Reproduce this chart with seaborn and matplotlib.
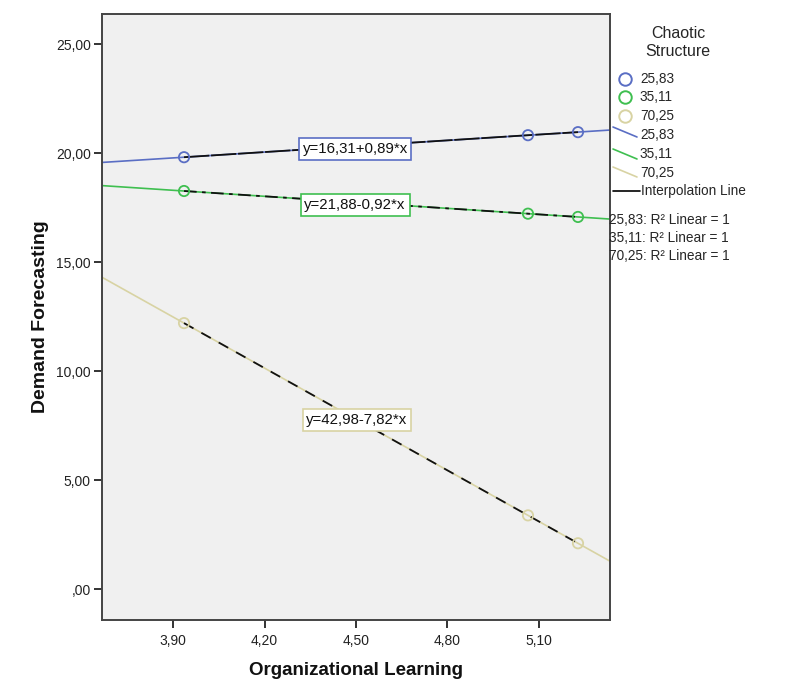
import numpy as np
import pandas as pd
import seaborn as sns
import matplotlib.pyplot as plt
from matplotlib.lines import Line2D

# data
groups = ["25,83", "35,11", "70,25"]
org_learning = [3.936, 5.064, 5.228]
demand_2583 = [19.81, 20.82, 20.96]
demand_3511 = [18.26, 17.22, 17.07]
demand_7025 = [12.20, 3.38, 2.10]
equations = ["y=16,31+0,89*x", "y=21,88-0,92*x", "y=42,98-7,82*x"]
x_ticks = [3.90, 4.20, 4.50, 4.80, 5.10]
y_ticks = [0, 5, 10, 15, 20, 25]

colors = ["#5a6ec4", "#3fbf50", "#d8d3a3"]
interp_styles = [(0, (14, 1)), (0, (7, 3, 2, 3)), (0, (6, 5))]

df = pd.DataFrame({
    "Organizational Learning": org_learning * 3,
    "Demand Forecasting": demand_2583 + demand_3511 + demand_7025,
    "Chaotic Structure": [g for g in groups for _ in org_learning],
})

sns.set_style("white")
plt.rcParams["font.family"] = ["Liberation Sans", "DejaVu Sans"]

fig = plt.figure(figsize=(7.95, 6.96), dpi=100)
ax = fig.add_axes([102 / 795, 1 - 620 / 696, 508 / 795, 606 / 696])
ax.set_facecolor("#f0f0f0")
ax.set_xlim(3.667, 5.333)
ax.set_ylim(-1.42, 26.38)

# fit lines (extend across the whole x range)
for g, c in zip(groups, colors):
    sub = df[df["Chaotic Structure"] == g]
    sns.regplot(data=sub, x="Organizational Learning", y="Demand Forecasting",
                scatter=False, ci=None, truncate=False, color=c,
                line_kws={"lw": 1.2}, ax=ax)

# interpolation lines
for g, ls in zip(groups, interp_styles):
    sub = df[df["Chaotic Structure"] == g]
    sns.lineplot(data=sub, x="Organizational Learning", y="Demand Forecasting",
                 color="#111111", lw=1.3, linestyle=ls, ax=ax)

# hollow points
sns.scatterplot(data=df, x="Organizational Learning", y="Demand Forecasting",
                hue="Chaotic Structure", palette=colors, s=55, linewidth=1.3,
                legend=False, ax=ax, zorder=5)
pts = ax.collections[-1]
pts.set_edgecolors(pts.get_facecolors())
pts.set_facecolor("none")

# equation labels
eq_pos = [(4.497, 20.18), (4.497, 17.61), (4.503, 7.75)]
for (ex, ey), eq, c in zip(eq_pos, equations, colors):
    ax.text(ex, ey, eq, ha="center", va="center", fontsize=10.8, zorder=6,
            color="#111111",
            bbox=dict(boxstyle="square,pad=0.25", fc="white", ec=c, lw=1.2))

ax.set_xticks(x_ticks)
ax.set_xticklabels([f"{v:.2f}".replace(".", ",") for v in x_ticks])
ax.set_yticks(y_ticks)
ax.set_yticklabels([(f"{v:.2f}".replace(".", ",") if v else ",00") for v in y_ticks])
ax.tick_params(axis="both", which="both", direction="out", length=6, width=1.4,
               color="#333333", labelsize=10, labelcolor="#222222", pad=2,
               bottom=True, left=True, top=False, right=False)
ax.tick_params(axis="x", pad=4)
for sp in ax.spines.values():
    sp.set_color("#444444")
    sp.set_linewidth(1.4)
ax.set_xlabel("Organizational Learning", fontsize=13.5, fontweight="bold",
              labelpad=10, color="#111111")
ax.set_ylabel("Demand Forecasting", fontsize=14, fontweight="bold",
              labelpad=5, color="#111111")

# legend drawn outside the axes
def fx(px):
    return px / 795

def fy(py):
    return 1 - py / 696

fig.text(fx(678), fy(33), "Chaotic", ha="center", va="center", fontsize=11.5)
fig.text(fx(678), fy(51), "Structure", ha="center", va="center", fontsize=11.5)
for i, (g, c) in enumerate(zip(groups, colors)):
    yy = [79, 97, 116][i]
    fig.add_artist(Line2D([fx(625)], [fy(yy)], marker="o", ms=9, mfc="none",
                          mec=c, mew=1.4, ls="none"))
    fig.text(fx(640), fy(yy), g, va="center", fontsize=9.8)
for i, (g, c) in enumerate(zip(groups, colors)):
    y0 = [127, 149, 167][i]
    fig.add_artist(Line2D([fx(613), fx(637)], [fy(y0), fy(y0 + 10)], color=c, lw=1.2))
    fig.text(fx(640), fy([135, 154, 173][i]), g, va="center", fontsize=9.8)
fig.add_artist(Line2D([fx(613), fx(640)], [fy(191), fy(191)], color="black", lw=1.2))
fig.text(fx(641), fy(191), "Interpolation Line", va="center", fontsize=9.8)
for i, g in enumerate(groups):
    fig.text(fx(609), fy([220, 238, 256][i]), f"{g}: R² Linear = 1",
             va="center", fontsize=9.8)

fig.savefig("out.png", dpi=100, facecolor="white")
